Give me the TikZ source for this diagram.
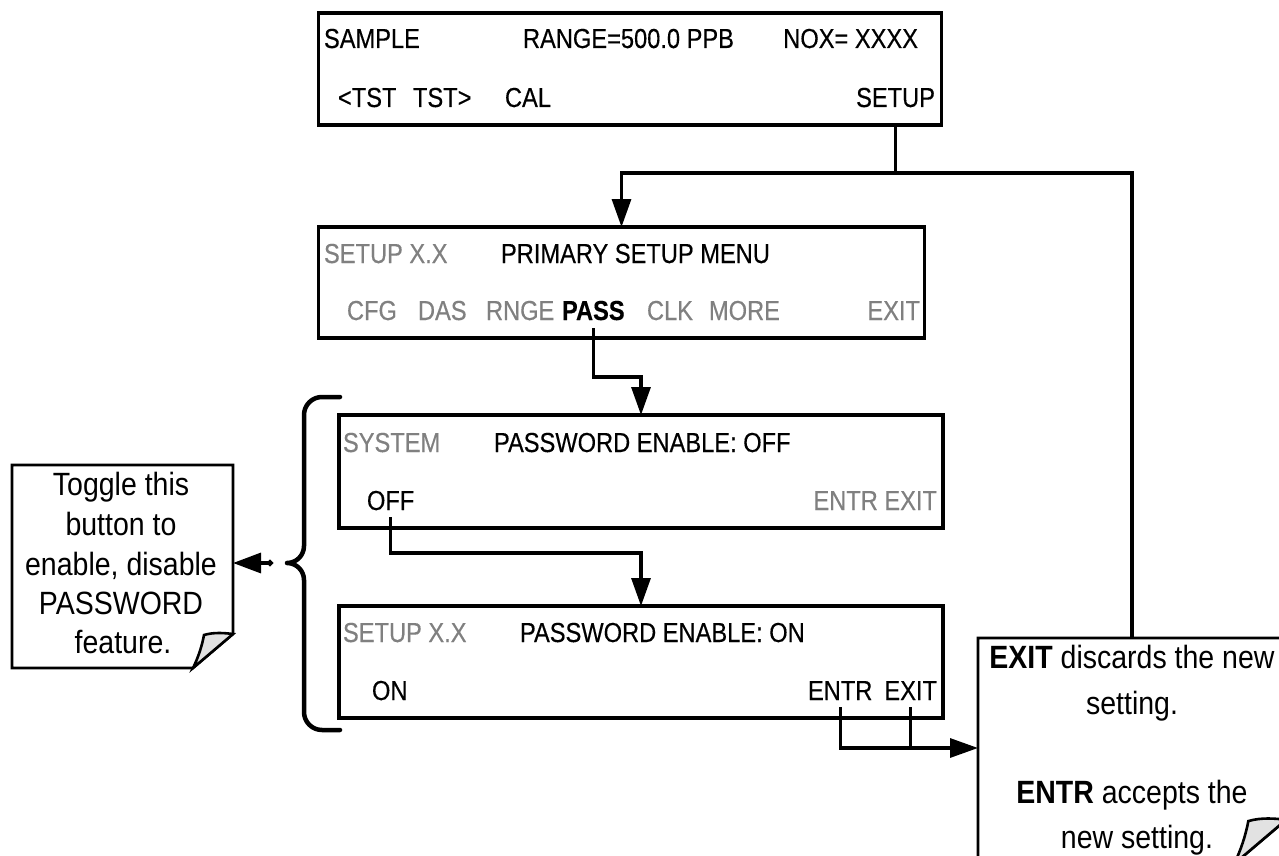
\documentclass[tikz,border=0pt]{standalone}
\usepackage{fontspec}
\setmainfont{Liberation Sans}
\newfontfamily\lcdfont{Liberation Sans}[FakeStretch=0.86, FakeBold=0.35]
\newfontfamily\notefont{Liberation Sans}[FakeStretch=0.885]
\usetikzlibrary{arrows.meta,calc}
\definecolor{lcdgray}{RGB}{128,128,128}
\definecolor{foldgray}{RGB}{226,226,226}
\begin{document}
\begin{tikzpicture}[x=1pt,y=1pt,
  lcd/.style={draw, line width=3.6pt, rectangle, inner sep=0pt, outer sep=0pt, anchor=north west},
  btxt/.style={inner sep=0pt, outer sep=0pt, font=\lcdfont\fontsize{27.5}{32}\selectfont, text=black},
  gtxt/.style={btxt, text=lcdgray},
  ntxt/.style={inner sep=0pt, outer sep=0pt, font=\notefont\fontsize{32.2}{38}\selectfont, anchor=base},
  notearea/.style={rectangle, inner sep=0pt, outer sep=0pt},
  notebd/.style={line width=2.6pt, line join=miter},
  conn/.style={line width=3.2pt},
  arr/.style={conn, -{Triangle[length=28pt,width=19pt]}}]
\useasboundingbox (0,0) rectangle (1279,-856);
\fill[white] (0,0) rectangle (1279,-856);
\clip (0,0) rectangle (1279,-856);

% ---------- display boxes ----------
\node[lcd, minimum width=623pt, minimum height=112pt] (box1) at (318.5,-13) {};
\node[lcd, minimum width=606pt, minimum height=111pt] (box2) at (318.5,-227) {};
\node[lcd, minimum width=604pt, minimum height=113pt] (box3) at (339,-415) {};
\node[lcd, minimum width=604pt, minimum height=112pt] (box4) at (339,-606) {};

% box 1 texts
\node[btxt, anchor=base west] (sample) at (324,-48) {SAMPLE};
\node[btxt, anchor=base west] (range) at (523,-48) {RANGE=500.0 PPB};
\node[btxt, anchor=base east] (nox) at (918,-48) {NOX= XXXX};
\node[btxt, anchor=base west] (tstl) at (338,-107) {<TST};
\node[btxt, anchor=base west] (tstr) at (413,-107) {TST>};
\node[btxt, anchor=base west] (cal) at (505,-107) {CAL};
\node[btxt, anchor=base east] (setup) at (935,-107) {SETUP};

% box 2 texts
\node[gtxt, anchor=base west] (setupxx2) at (324,-263) {SETUP X.X};
\node[btxt, anchor=base west] (primary) at (501,-263) {PRIMARY SETUP MENU};
\node[gtxt, anchor=base west] (cfg) at (347,-320) {CFG};
\node[gtxt, anchor=base west] (das) at (418,-320) {DAS};
\node[gtxt, anchor=base west] (rnge) at (486,-320) {RNGE};
\node[btxt, anchor=base west] (pass) at (562,-320) {\bfseries PASS};
\node[gtxt, anchor=base west] (clk) at (647,-320) {CLK};
\node[gtxt, anchor=base west] (more) at (709,-320) {MORE};
\node[gtxt, anchor=base east] (exit2) at (920,-320) {EXIT};

% box 3 texts
\node[gtxt, anchor=base west] (system) at (343,-452) {SYSTEM};
\node[btxt, anchor=base west] (pwoff) at (494,-452) {PASSWORD ENABLE: OFF};
\node[btxt, anchor=base west] (off) at (367,-510) {OFF};
\node[gtxt, anchor=base east] (entrexit3) at (937,-510) {ENTR EXIT};

% box 4 texts
\node[gtxt, anchor=base west] (setupxx4) at (343,-642) {SETUP X.X};
\node[btxt, anchor=base west] (pwon) at (520,-642) {PASSWORD ENABLE: ON};
\node[btxt, anchor=base west] (on) at (372,-700) {ON};
\node[btxt, anchor=base west] (entr4) at (808,-700) {ENTR};
\node[btxt, anchor=base east] (exitb4) at (937,-700) {EXIT};

% ---------- notes ----------
\node[notearea, minimum width=221pt, minimum height=203pt] (togglenote) at (122.5,-566.5) {};
\draw[notebd] (togglenote.north west) -- (togglenote.north east)
  -- ($(togglenote.south east)+(0,34)$) -- ($(togglenote.south east)+(-40,0)$)
  -- (togglenote.south west) -- cycle;
\begin{scope}[shift={(togglenote.south east)}]
  \draw[notebd, fill=foldgray] (-40,0) .. controls (-35,10) and (-31,22) .. (-29,33)
     .. controls (-19,36) and (-8,35) .. (0,34) -- cycle;
\end{scope}
\node[ntxt] (t1) at (121,-495) {Toggle this};
\node[ntxt] (t2) at (121,-535) {button to};
\node[ntxt] (t3) at (121,-575) {enable, disable};
\node[ntxt] (t4) at (121,-614) {PASSWORD};
\node[ntxt] (t5) at (123,-653) {feature.};

\node[notearea, minimum width=308pt, minimum height=226pt] (exitnote) at (1132,-751) {};
\draw[notebd] (exitnote.north west) -- (exitnote.north east)
  -- ($(exitnote.south east)+(0,44)$) -- ($(exitnote.south east)+(-52,0)$)
  -- (exitnote.south west) -- cycle;
\begin{scope}[shift={(exitnote.south east)}, scale=1.3]
  \draw[notebd, fill=foldgray] (-40,0) .. controls (-35,10) and (-31,22) .. (-29,33)
     .. controls (-19,36) and (-8,35) .. (0,34) -- cycle;
\end{scope}
\node[ntxt] (e1) at (1132,-668) {\bfseries EXIT\mdseries\ discards the new};
\node[ntxt] (e2) at (1132,-714) {setting.};
\node[ntxt] (e3) at (1132,-803) {\bfseries ENTR\mdseries\ accepts the};
\node[ntxt] (e4) at (1137,-848) {new setting.};

% ---------- brace ----------
\draw[line width=4.5pt, line cap=round, line join=round]
  (340,-397) -- (322,-397) to[out=180,in=90] (304,-415) -- (304,-546)
  to[out=-90,in=0] (287,-563) to[out=0,in=90] (304,-580) -- (304,-712)
  to[out=-90,in=180] (322,-730) -- (340,-730);
\coordinate (bracedot) at (273,-563);
\draw[conn, {Circle[length=6pt]}-{Triangle[length=28pt,width=20pt]}]
  (bracedot) -- (togglenote.east |- bracedot);

% ---------- connectors ----------
\coordinate (j1) at (0,-173);
\draw[conn] (box1.south -| setup.south) -- (setup.south |- j1);
\draw[arr] (setup.south |- j1) -| (box2.north);
\draw[conn] (setup.south |- j1) -| (exitnote.north);

\coordinate (k2) at (0,-377);
\draw[arr] ([yshift=-8pt]pass.south) -- (pass.south |- k2) -| (box3.north);

\coordinate (k3) at (0,-553);
\draw[arr] ([yshift=-7pt]off.south) -- (off.south |- k3) -| (box4.north);

\coordinate (k4) at (0,-748);
\draw[arr] ([yshift=-7pt]entr4.south) -- (entr4.south |- k4) -- (exitnote.west |- k4);
\draw[conn] ([yshift=-7pt]exitb4.south) -- (exitb4.south |- k4);
\end{tikzpicture}
\end{document}
